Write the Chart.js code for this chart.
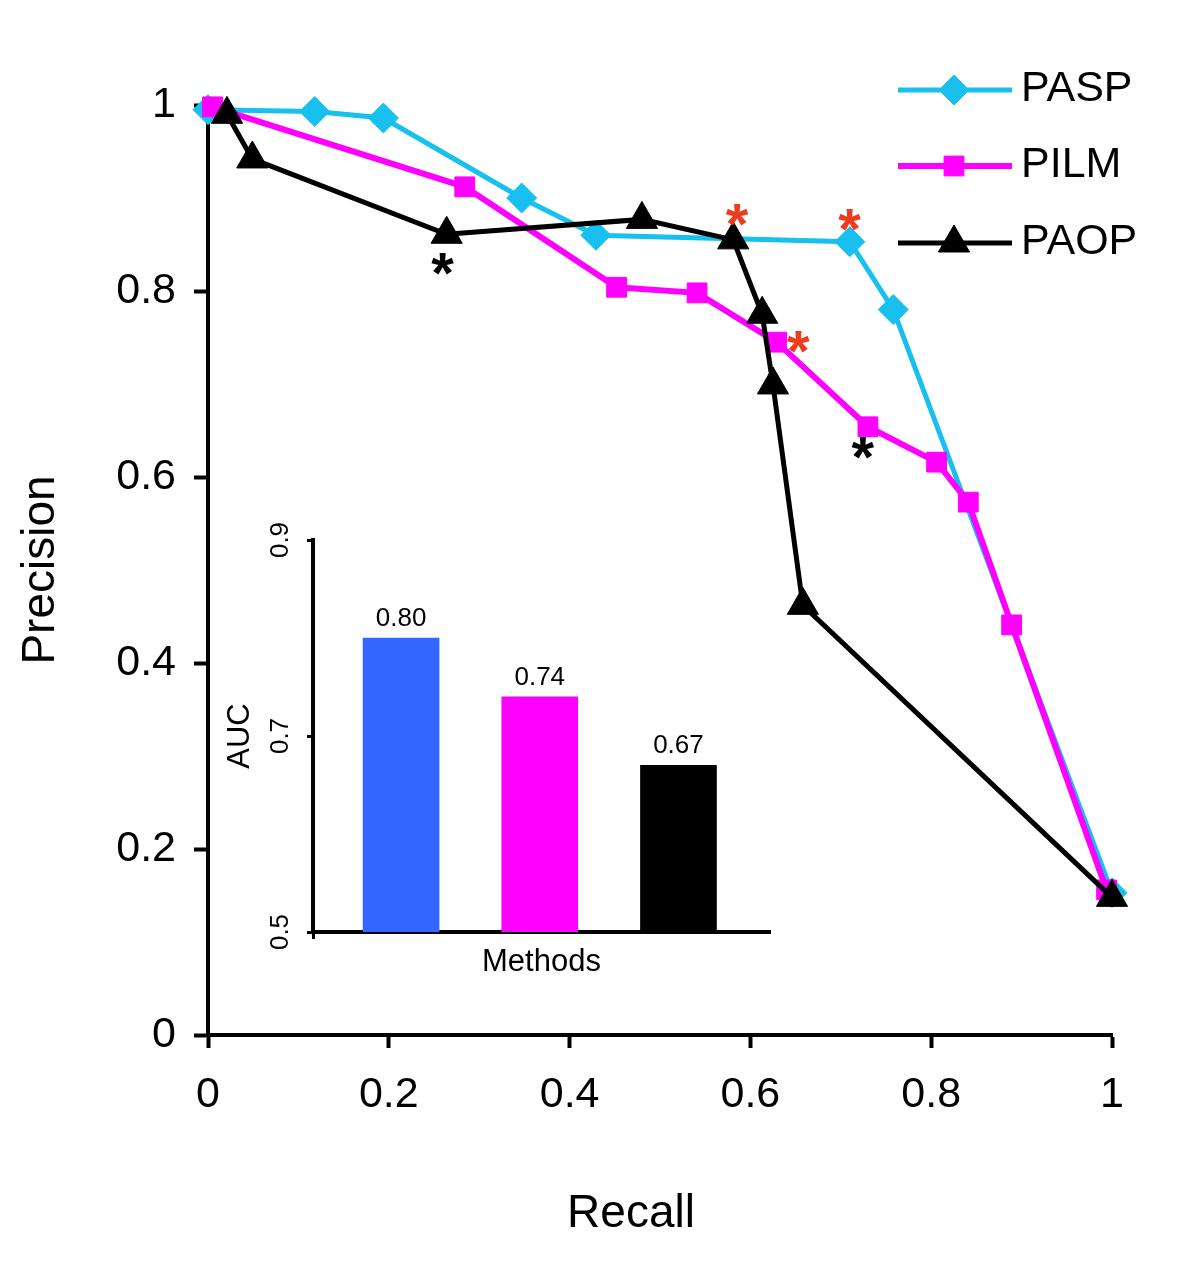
<!DOCTYPE html>
<html><head><meta charset="utf-8">
<script src="https://cdn.jsdelivr.net/npm/chart.js@4.4.0/dist/chart.umd.min.js"></script>
<style>
html,body{margin:0;padding:0;background:#fff;}
#wrap{position:relative;width:1200px;height:1275px;}
#main{position:absolute;left:0;top:0;}
#inset{position:absolute;left:200px;top:500px;}
</style></head><body>
<div id="wrap"><canvas id="main" width="1200" height="1275"></canvas><canvas id="inset" width="600" height="500"></canvas></div>
<script>
// ---------- data ----------
const seriesNames = ['PASP', 'PILM', 'PAOP'];
const paspRecall    = [0.000, 0.118, 0.194, 0.347, 0.429, 0.710, 0.758, 1.000];
const paspPrecision = [0.995, 0.993, 0.986, 0.900, 0.860, 0.853, 0.780, 0.153];
const pilmRecall    = [0.005, 0.284, 0.452, 0.541, 0.629, 0.730, 0.806, 0.841, 0.889, 0.994];
const pilmPrecision = [0.998, 0.912, 0.804, 0.798, 0.745, 0.654, 0.616, 0.573, 0.441, 0.156];
const paopRecall    = [0.021, 0.049, 0.264, 0.480, 0.581, 0.613, 0.625, 0.658, 1.000];
const paopPrecision = [0.990, 0.942, 0.861, 0.877, 0.855, 0.775, 0.699, 0.462, 0.148];
const xTickValues = [0, 0.2, 0.4, 0.6, 0.8, 1];
const xTickLabels = ['0', '0.2', '0.4', '0.6', '0.8', '1'];
const yTickValues = [0, 0.2, 0.4, 0.6, 0.8, 1];
const yTickLabels = ['0', '0.2', '0.4', '0.6', '0.8', '1'];
const aucMethods = ['PASP', 'PILM', 'PAOP'];
const aucValues = [0.80, 0.74, 0.67];
const aucLabels = ['0.80', '0.74', '0.67'];
const aucTickValues = [0.5, 0.7, 0.9];
const aucTickLabels = ['0.5', '0.7', '0.9'];

// ---------- styles ----------
const FONT = "'Liberation Sans', Arial, Helvetica, sans-serif";
Chart.defaults.font.family = FONT;
Chart.defaults.color = '#000';
const CYAN = '#17C0EE', MAGENTA = '#FF00FF', BLACK = '#000000', RED = '#F03A1E';
const aucColors = ['#3366FF', MAGENTA, BLACK];

const pts = (xs, ys) => xs.map((x, i) => ({x: x, y: ys[i]}));

// asterisk annotations anchored to data points (series index, point index, pixel offsets)
const asteriskMarks = [
  {s: 2, p: 2, dx: -4, dy: 30, color: BLACK},
  {s: 2, p: 4, dx: 4, dy: -25, color: RED},
  {s: 0, p: 5, dx: 0, dy: -22, color: RED},
  {s: 1, p: 4, dx: 22, dy: 0, color: RED},
  {s: 1, p: 5, dx: -5, dy: 21, color: BLACK}
];

const whiteBg = {
  id: 'whiteBg',
  beforeDraw(chart) {
    const c = chart.ctx; c.save(); c.fillStyle = '#fff';
    c.fillRect(0, 0, chart.width, chart.height); c.restore();
  }
};

const extras = {
  id: 'extras',
  afterDraw(chart) {
    const ctx = chart.ctx;
    // asterisks
    ctx.save();
    ctx.font = 'bold 58px ' + FONT;
    asteriskMarks.forEach(a => {
      const el = chart.getDatasetMeta(a.s).data[a.p];
      const cx = el.x + a.dx, cy = el.y + a.dy;
      const m = ctx.measureText('*');
      ctx.fillStyle = a.color;
      ctx.textAlign = 'left'; ctx.textBaseline = 'alphabetic';
      const bx = cx - (m.actualBoundingBoxRight - m.actualBoundingBoxLeft) / 2;
      const by = cy + (m.actualBoundingBoxAscent - m.actualBoundingBoxDescent) / 2;
      ctx.fillText('*', bx, by);
    });
    ctx.restore();
    // legend
    const rows = [89, 165, 242];
    ctx.save();
    chart.data.datasets.forEach((ds, i) => {
      const y = rows[i];
      ctx.strokeStyle = ds.borderColor; ctx.lineWidth = ds.borderWidth;
      ctx.beginPath(); ctx.moveTo(898, y + 1); ctx.lineTo(1012, y + 1); ctx.stroke();
      ctx.fillStyle = ds.pointBackgroundColor; ctx.strokeStyle = ds.pointBorderColor; ctx.lineWidth = 1;
      Chart.helpers.drawPoint(ctx, {pointStyle: ds.pointStyle, radius: ds.pointRadius, rotation: 0, borderWidth: 1}, 954, y + 1);
      ctx.fillStyle = '#000'; ctx.font = '43px ' + FONT;
      ctx.textAlign = 'left'; ctx.textBaseline = 'middle';
      ctx.fillText(ds.label, 1021, y);
    });
    ctx.restore();
    // x-axis title
    const ca = chart.chartArea;
    ctx.save();
    ctx.fillStyle = '#000'; ctx.font = '46px ' + FONT;
    ctx.textAlign = 'center'; ctx.textBaseline = 'middle';
    ctx.fillText('Recall', (ca.left + ca.right) / 2 - 29, 1214);
    ctx.restore();
  }
};

new Chart(document.getElementById('main'), {
  type: 'line',
  data: {
    datasets: [
      {label: seriesNames[0], data: pts(paspRecall, paspPrecision), borderColor: CYAN, borderWidth: 5,
       pointStyle: 'rectRot', pointRadius: 15, pointBackgroundColor: CYAN, pointBorderColor: CYAN, pointBorderWidth: 1,
       tension: 0, clip: false, order: 3},
      {label: seriesNames[1], data: pts(pilmRecall, pilmPrecision), borderColor: MAGENTA, borderWidth: 6,
       pointStyle: 'rect', pointRadius: 14, pointBackgroundColor: MAGENTA, pointBorderColor: MAGENTA, pointBorderWidth: 1,
       tension: 0, clip: false, order: 2},
      {label: seriesNames[2], data: pts(paopRecall, paopPrecision), borderColor: BLACK, borderWidth: 5,
       pointStyle: 'triangle', pointRadius: 18, pointBackgroundColor: BLACK, pointBorderColor: BLACK, pointBorderWidth: 1,
       tension: 0, clip: false, order: 1}
    ]
  },
  options: {
    responsive: false, animation: false, devicePixelRatio: 1,
    layout: {padding: {top: 105, right: 88, left: 0, bottom: 0}},
    plugins: {legend: {display: false}, tooltip: {enabled: false}},
    scales: {
      x: {
        type: 'linear', min: 0, max: 1,
        afterBuildTicks: s => { s.ticks = xTickValues.map(v => ({value: v})); },
        afterFit: s => { s.height = 240; },
        ticks: {callback: (v, i) => xTickLabels[i], font: {size: 43}, color: '#000', padding: 21, maxRotation: 0, autoSkip: false},
        grid: {drawOnChartArea: false, drawTicks: true, tickLength: 13, tickWidth: 4, tickColor: '#000'},
        border: {display: true, color: '#000', width: 4},
        title: {display: false, text: 'Recall'}
      },
      y: {
        type: 'linear', min: 0, max: 1,
        afterBuildTicks: s => { s.ticks = yTickValues.map(v => ({value: v})); },
        afterFit: s => { s.width = 208; },
        ticks: {callback: (v, i) => yTickLabels[i], font: {size: 43}, color: '#000', padding: 18, autoSkip: false},
        grid: {drawOnChartArea: false, drawTicks: true, tickLength: 14, tickWidth: 4, tickColor: '#000'},
        border: {display: true, color: '#000', width: 4},
        title: {display: true, text: 'Precision', font: {size: 46}, color: '#000', padding: {top: 14, bottom: 0}}
      }
    }
  },
  plugins: [whiteBg, extras]
});

// ---------- inset AUC bar chart ----------
const barLabels = {
  id: 'barLabels',
  afterDatasetsDraw(chart) {
    const ctx = chart.ctx;
    ctx.save();
    ctx.fillStyle = '#000'; ctx.font = '26px ' + FONT;
    ctx.textAlign = 'center'; ctx.textBaseline = 'alphabetic';
    chart.getDatasetMeta(0).data.forEach((bar, i) => {
      ctx.fillText(aucLabels[i], bar.x, bar.y - 12);
    });
    ctx.restore();
  }
};

new Chart(document.getElementById('inset'), {
  type: 'bar',
  data: {
    labels: aucMethods,
    datasets: [{label: 'AUC', data: aucValues.map((v, i) => ({x: i + 1, y: v})),
      backgroundColor: aucColors, borderWidth: 0, barThickness: 76}]
  },
  options: {
    responsive: false, animation: false, devicePixelRatio: 1,
    layout: {padding: {top: 40, right: 30, left: 0, bottom: 0}},
    plugins: {legend: {display: false}, tooltip: {enabled: false}},
    scales: {
      x: {
        type: 'linear', min: 0.365, max: 3.66, offset: false,
        afterBuildTicks: s => { s.ticks = [{value: 3.66}]; },
        afterFit: s => { s.height = 68; },
        ticks: {display: false},
        grid: {drawOnChartArea: false, drawTicks: true, tickLength: 7, tickWidth: 3, tickColor: '#000'},
        border: {display: true, color: '#000', width: 4},
        title: {display: true, text: 'Methods', font: {size: 31}, color: '#000', padding: {top: 0, bottom: 19}}
      },
      y: {
        min: 0.5, max: 0.9, beginAtZero: false,
        afterBuildTicks: s => { s.ticks = aucTickValues.map(v => ({value: v})); },
        afterFit: s => { s.width = 113; },
        ticks: {callback: (v, i) => aucTickLabels[i], minRotation: 90, maxRotation: 90, crossAlign: 'center',
                padding: 8, font: {size: 26}, color: '#000', autoSkip: false},
        grid: {drawOnChartArea: false, drawTicks: true, tickLength: 6, tickWidth: 3, tickColor: '#000'},
        border: {display: true, color: '#000', width: 4},
        title: {display: true, text: 'AUC', font: {size: 31}, color: '#000', padding: {top: 22, bottom: 0}}
      }
    }
  },
  plugins: [barLabels]
});
</script>
</body></html>
